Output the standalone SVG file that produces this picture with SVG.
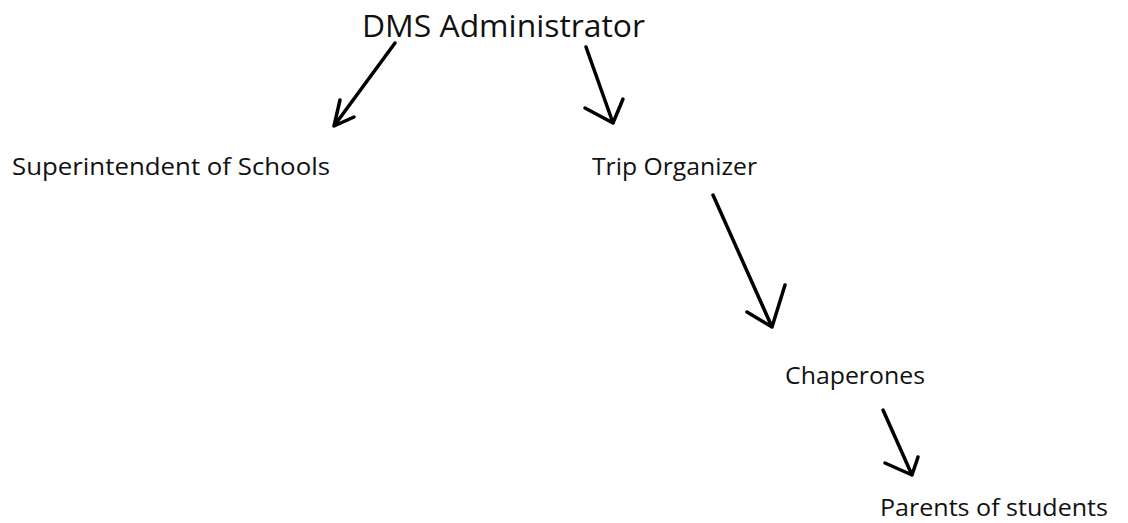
<svg xmlns="http://www.w3.org/2000/svg" width="1128" height="523" viewBox="0 0 1128 523">
  <style>
    .lbl { font-family: "Open Sans", "Noto Sans", "Liberation Sans", sans-serif; fill: #111; }
    .small { font-size: 23px; }
    .big { font-size: 31px; }
    .stroke { fill: none; stroke: #000; stroke-width: 3.5; stroke-linecap: round; stroke-linejoin: round; }
  </style>
  <rect width="1128" height="523" fill="#fff"/>

  <g id="node-dms-administrator">
    <text class="lbl big" x="362" y="37" textLength="283" lengthAdjust="spacingAndGlyphs">DMS Administrator</text>
  </g>
  <g id="node-superintendent">
    <text class="lbl small" x="12" y="175" textLength="318" lengthAdjust="spacingAndGlyphs">Superintendent of Schools</text>
  </g>
  <g id="node-trip-organizer">
    <text class="lbl small" x="592" y="175" textLength="165" lengthAdjust="spacingAndGlyphs">Trip Organizer</text>
  </g>
  <g id="node-chaperones">
    <text class="lbl small" x="785" y="384" textLength="140" lengthAdjust="spacingAndGlyphs">Chaperones</text>
  </g>
  <g id="node-parents">
    <text class="lbl small" x="880" y="516" textLength="228" lengthAdjust="spacingAndGlyphs">Parents of students</text>
  </g>

  <!-- hand-drawn arrows: shaft plus two barbs meeting at the tip -->
  <g id="connectors">
    <path class="stroke" d="M395 43 L334 126 M340 100 L334 126 L354 117"/>
    <path class="stroke" d="M586 47 L613 123 M585 108 L613 123 L623 99"/>
    <path class="stroke" d="M713 195 L772 327 M747 312 L772 327 L785 285"/>
    <path class="stroke" d="M883 410 L912 475 M885 463 L912 475 L918 457"/>
  </g>
</svg>
